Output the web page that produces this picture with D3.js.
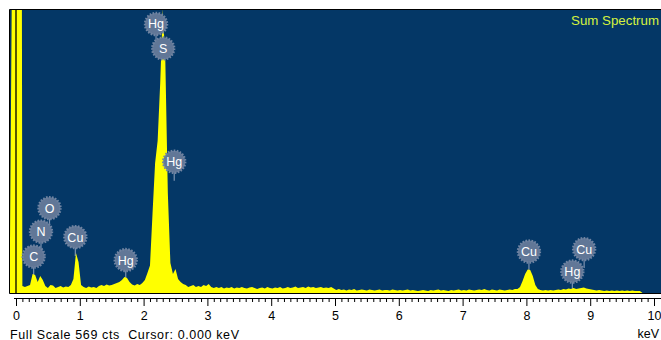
<!DOCTYPE html>
<html>
<head>
<meta charset="utf-8">
<script src="https://cdn.jsdelivr.net/npm/d3@7"></script>
<style>
  html, body { margin: 0; padding: 0; background: #ffffff; }
  svg { display: block; font-family: "Liberation Sans", Arial, sans-serif; }
</style>
</head>
<body>
<svg id="chart" width="661" height="340"></svg>
<script>
// EDS sum spectrum: channel calibration (keV) and counts per channel
const channelStart = -0.10;
const channelWidth = 0.04;
const counts = [
  0, 700, 3000,
  // 0.02 - 0.98 keV
  3000, 3000, 14, 12, 14, 16, 38, 36, 22, 34, 26, 14, 10, 16, 15, 10, 12, 14, 11, 13, 12, 16, 28, 80, 62,
  // 1.02 - 1.98 keV
  16, 12, 10, 13, 11, 12, 10, 14, 16, 14, 17, 15, 16, 18, 20, 22, 26, 32, 30, 22, 17, 15, 18, 16, 20,
  // 2.02 - 2.98 keV
  26, 40, 55, 160, 260, 305, 420, 569, 470, 200, 60, 38, 48, 28, 22, 18, 16, 12, 14, 16, 12, 14, 12, 16, 14,
  // 3.02 - 3.98 keV
  18, 12, 10, 12, 10, 12, 9, 11, 10, 12, 9, 11, 10, 12, 10, 9, 11, 12, 10, 8, 10, 11, 9, 12, 10,
  // 4.02 - 4.98 keV
  9, 11, 10, 12, 9, 10, 12, 10, 11, 13, 10, 11, 12, 10, 13, 11, 12, 10, 11, 12, 10, 11, 10, 12, 9,
  // 5.02 - 5.98 keV
  6, 8, 6, 7, 5, 7, 6, 8, 5, 6, 7, 6, 5, 7, 6, 5, 6, 7, 5, 6, 6, 5, 7, 6, 5,
  // 6.02 - 6.98 keV
  6, 5, 6, 7, 5, 6, 5, 4, 5, 6, 5, 4, 6, 5, 6, 7, 5, 6, 5, 4, 6, 5, 6, 7, 5,
  // 7.02 - 7.98 keV
  6, 5, 7, 6, 5, 6, 7, 6, 8, 6, 5, 7, 6, 5, 7, 6, 5, 6, 7, 6, 8, 8, 12, 24, 38,
  // 8.02 - 8.98 keV
  47, 46, 34, 16, 8, 6, 5, 6, 5, 6, 5, 6, 7, 6, 8, 7, 9, 8, 10, 8, 9, 10, 11, 9, 8,
  // 9.02 - 9.82 keV
  7, 6, 5, 6, 5, 4, 5, 4, 5, 4, 5, 4, 5, 4, 5, 4, 5, 4, 4, 4, 0
];
const fullScale = 569;
const cursorEnergy = 0.000;
const tickValues = [0, 1, 2, 3, 4, 5, 6, 7, 8, 9, 10];
const unitLabel = "keV";
const titleText = "Sum Spectrum";
const statusText = "Full Scale 569 cts  Cursor: 0.000 keV";

// identified lines
const peakNames    = ["C", "N", "O", "Cu", "Hg", "Hg", "S", "Hg", "Cu", "Hg", "Cu"];
const peakEnergies = [0.277, 0.392, 0.525, 0.930, 1.72, 2.195, 2.307, 2.48, 8.04, 8.72, 8.905];
// badge heights, in counts, so they follow the y scale
const badgeLevels  = [73, 123, 170, 112, 66, 539, 490, 263, 83, 43, 88];

const svg = d3.select("#chart");
const plot = { left: 9.5, top: 9.5, right: 662, bottom: 293.5 };

const x = d3.scaleLinear().domain([0, 10]).range([16, 654]);
const y = d3.scaleLinear().domain([0, fullScale]).range([293, 9]);

// plot background
svg.append("rect")
  .attr("x", plot.left).attr("y", plot.top)
  .attr("width", plot.right - plot.left).attr("height", plot.bottom - plot.top)
  .attr("fill", "#043766");

svg.append("clipPath").attr("id", "plotClip")
  .append("rect")
  .attr("x", plot.left + 0.5).attr("y", plot.top + 0.5)
  .attr("width", plot.right - plot.left).attr("height", plot.bottom - plot.top - 1);

const inner = svg.append("g").attr("clip-path", "url(#plotClip)");

const peaks = peakNames.map((name, i) => ({
  name, energy: peakEnergies[i], level: badgeLevels[i]
}));
const badgeR = 11;

// short leader stubs below each badge
inner.selectAll("line.stub").data(peaks).join("line")
  .attr("class", "stub")
  .attr("x1", d => x(d.energy)).attr("x2", d => x(d.energy))
  .attr("y1", d => y(d.level))
  .attr("y2", d => y(d.level) + badgeR + 8)
  .attr("stroke", "#7d93b0").attr("stroke-width", 1.2);

// spectrum
const area = d3.area()
  .x((d, i) => x(channelStart + i * channelWidth))
  .y0(y(0))
  .y1(d => y(d));

inner.append("path")
  .datum(counts)
  .attr("d", area)
  .attr("fill", "#ffff00");

// cursor
inner.append("line")
  .attr("x1", x(cursorEnergy)).attr("x2", x(cursorEnergy))
  .attr("y1", plot.top).attr("y2", plot.bottom)
  .attr("stroke", "#000000").attr("stroke-width", 1.3);

// element badges
const badges = inner.selectAll("g.badge").data(peaks).join("g")
  .attr("class", "badge")
  .attr("transform", d => `translate(${x(d.energy)},${y(d.level)})`);

badges.append("circle")
  .attr("r", badgeR)
  .attr("fill", "#617797")
  .attr("stroke", "#7084a2")
  .attr("stroke-width", 2.4)
  .attr("stroke-dasharray", "1.6 1.4");

badges.append("text")
  .attr("text-anchor", "middle")
  .attr("dy", "0.36em")
  .attr("fill", "#ffffff")
  .attr("font-size", 12.5)
  .text(d => d.name);

// title, kept inside the right edge
svg.append("text")
  .attr("x", 659).attr("y", 25)
  .attr("text-anchor", "end")
  .attr("fill", "#d6f23e")
  .attr("font-size", 13.3)
  .text(titleText);

// frame
svg.append("path")
  .attr("d", `M${plot.right},${plot.top}H${plot.left}V${plot.bottom}H${plot.right}`)
  .attr("fill", "none").attr("stroke", "#000000").attr("stroke-width", 1);

// energy axis
const axisY = 298;
svg.append("line")
  .attr("x1", 14).attr("x2", 661)
  .attr("y1", axisY + 0.5).attr("y2", axisY + 0.5)
  .attr("stroke", "#000000").attr("stroke-width", 1);

const minorTicks = d3.range(1, 101).filter(k => k % 10 !== 0).map(k => k / 10);
svg.append("g")
  .attr("transform", `translate(0,${axisY})`)
  .call(d3.axisBottom(x).tickValues(minorTicks).tickSize(4).tickFormat(""))
  .call(g => g.select(".domain").remove());

svg.append("g")
  .attr("transform", `translate(0,${axisY})`)
  .call(d3.axisBottom(x).tickValues(tickValues).tickSize(8).tickPadding(5).tickFormat(d3.format("d")))
  .call(g => g.select(".domain").remove())
  .call(g => g.selectAll("text").attr("font-size", 12.5).attr("fill", "#000000")
    .attr("font-family", "'Liberation Sans', Arial, sans-serif"));

svg.append("text")
  .attr("x", 659).attr("y", 338)
  .attr("text-anchor", "end")
  .attr("font-size", 12.5).attr("fill", "#000000")
  .text(unitLabel);

svg.append("text")
  .attr("x", 10).attr("y", 338.5)
  .attr("font-size", 12.5).attr("fill", "#000000")
  .attr("textLength", 229).attr("lengthAdjust", "spacing")
  .style("white-space", "pre")
  .text(statusText);
</script>
</body>
</html>
